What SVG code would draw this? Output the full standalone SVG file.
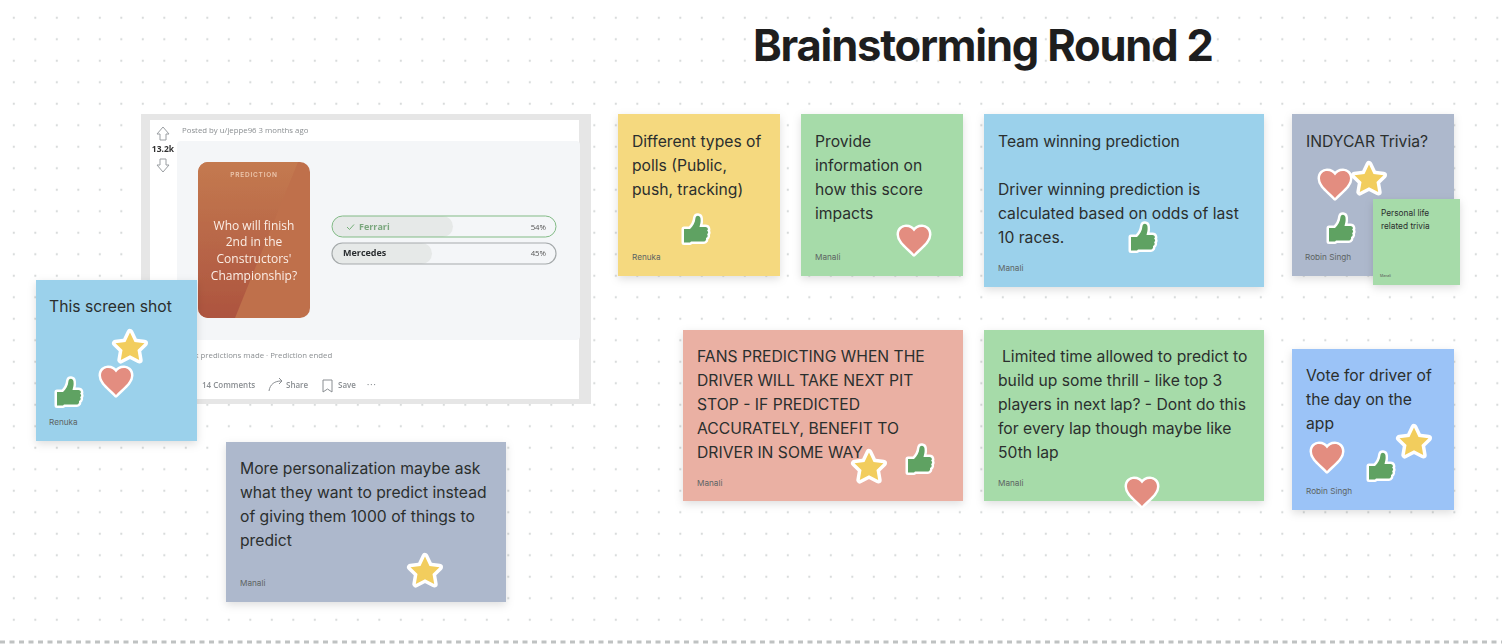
<svg xmlns="http://www.w3.org/2000/svg" width="1502" height="644" viewBox="0 0 1502 644">
<style>
text{font-family:Inter,"Noto Sans","Liberation Sans",sans-serif}
.t{font-size:15.7px;fill:#2b2f2e;transform:translateY(1px)}
.a{font-size:8.200px;fill:#5d6463}
.n{filter:url(#sh)}
.s{font-family:"Open Sans","Noto Sans",sans-serif;font-size:7.800px;fill:#8b8f92}
.b{font-family:"Open Sans","Noto Sans",sans-serif;font-weight:600;font-size:8px;fill:#8a8e92}
.q{font-family:"Open Sans","Noto Sans",sans-serif;font-weight:500;font-size:12px;fill:#fbeee6;text-anchor:middle}
.st{fill:#f2cd5d;stroke:#fff;stroke-width:7;stroke-linejoin:round;paint-order:stroke}
.he{fill:#e38d80;stroke:#fff;stroke-width:5;stroke-linejoin:round;paint-order:stroke}
.th{fill:#5fa262;stroke:#fff;stroke-width:5;stroke-linejoin:round;paint-order:stroke}
</style>
<defs>
<pattern id="dots" x="13.8" y="17.8" width="21.5" height="21.5" patternUnits="userSpaceOnUse"><circle cx="0" cy="0" r="1.100" fill="#d6d9d9"/><circle cx="21.500" cy="0" r="1.100" fill="#d6d9d9"/><circle cx="0" cy="21.500" r="1.100" fill="#d6d9d9"/><circle cx="21.500" cy="21.500" r="1.100" fill="#d6d9d9"/></pattern>
<filter id="sh" x="-10%" y="-10%" width="120%" height="125%"><feDropShadow dx="0" dy="3" stdDeviation="4" flood-color="#000" flood-opacity=".13"/></filter>
<filter id="soft" x="0" y="0" width="100%" height="100%"><feGaussianBlur stdDeviation=".4"/></filter>
<linearGradient id="card" x1="0" y1="0" x2="0" y2="1"><stop offset="0" stop-color="#c47a50"/><stop offset="1" stop-color="#ad543f"/></linearGradient>
<path id="star" class="st" d="M0-14.500 4.500-5 14.500-3.800 7.500 3 9.200 13 0 8.200-9.200 13-7.500 3-14.500-3.800-4.500-5Z"/>
<path id="heart" class="he" d="M0 14C-5 8-15 2-15-5.500-15-10.500-11.500-13-8-13-4.500-13-1.500-11 0-8.500 1.500-11 4.500-13 8-13 11.500-13 15-10.500 15-5.500 15 2 5 8 0 14Z"/>
<path id="thumb" class="th" d="M-11-1H-5C-2-4 0-7 .5-12 1-15 5-15 5.500-11.500 6-8 5-5.500 4.500-3H10.500C13-3 13.500 0 12 .5 13.500 1.500 13.500 3.500 12 4 13 5 13 7.500 11 8 11.500 9.500 10.500 11.500 9 11.500H-4L-5 12.500H-11Z"/>
</defs>
<rect width="1502" height="644" fill="#fff"/>
<rect y="0" width="1502" height="630" fill="url(#dots)"/>
<line x1="0" y1="642" x2="1502" y2="642" stroke="#bfc2c2" stroke-width="3" stroke-dasharray="5 4.500"/>
<text x="753" y="61" font-weight="700" fill="#1e1e1e" letter-spacing="-1.200" style="font-size:43.500px">Brainstorming Round 2</text>

<g id="screenshot" filter="url(#soft)">
<rect x="141" y="114" width="450" height="290" fill="#e6e6e6"/>
<rect x="150" y="120" width="429" height="279" fill="#fff"/>
<rect x="177" y="141" width="403" height="199" rx="4" fill="#f4f6f8"/>
<path d="M163 127l6 7h-3v6h-6v-6h-3ZM163 172l6-7h-3v-6h-6v6h-3Z" fill="#fff" stroke="#9a9ea2"/>
<text x="163" y="152" text-anchor="middle" font-weight="700" style="font-family:'Open Sans',sans-serif;font-size:8.500px" fill="#333">13.2k</text>
<text x="182" y="133" class="s">Posted by u/jeppe96 3 months ago</text>
<rect x="198" y="162" width="112" height="156" rx="10" fill="#bf6f4b"/>
<path d="M198 172a10 10 0 0 1 10-10h90L235 318H208a10 10 0 0 1-10-10Z" fill="url(#card)"/>
<text x="254" y="177" text-anchor="middle" font-weight="600" letter-spacing=".8" style="font-size:6.500px" fill="#ecc7ae">PREDICTION</text>
<text class="q" x="254" y="230">Who will finish</text>
<text class="q" x="254" y="246">2nd in the</text>
<text class="q" x="254" y="263">Constructors'</text>
<text class="q" x="254" y="280">Championship?</text>
<rect x="332" y="216" width="121" height="21" rx="10.500" fill="#e6e9e8"/>
<rect x="332" y="216" width="224" height="21" rx="10.500" fill="none" stroke="#82bb86"/>
<rect x="332" y="243" width="100" height="21" rx="10.500" fill="#e6e9e8"/>
<rect x="332" y="243" width="224" height="21" rx="10.500" fill="none" stroke="#a5aaab" stroke-width="1.200"/>
<path d="M347 227l2.500 2.500 4.500-5" fill="none" stroke="#74b078"/>
<text x="359" y="230" font-weight="700" style="font-family:'Open Sans',sans-serif;font-size:9px" fill="#7aa77d">Ferrari</text>
<text x="343" y="256" font-weight="700" style="font-family:'Open Sans',sans-serif;font-size:9px" fill="#2c2f31">Mercedes</text>
<text x="546" y="230" text-anchor="end" class="s" style="fill:#555">54%</text>
<text x="546" y="256" text-anchor="end" class="s" style="fill:#555">45%</text>
<text x="190" y="358" class="s">4k predictions made · Prediction ended</text>
<text x="202" y="388" class="b">14 Comments</text>
<path d="M269 391c1-7 6-10 12-10M279 378l3 3-3 3" fill="none" stroke="#8a8e92"/>
<text x="286" y="388" class="b">Share</text>
<path d="M323 380h9v12l-4.500-3-4.500 3Z" fill="none" stroke="#8a8e92"/>
<text x="338" y="388" class="b">Save</text>
<text x="367" y="388" class="b" letter-spacing="1">···</text>
</g>

<g id="note-screenshot"><rect class="n" x="36" y="280" width="161" height="161" fill="#9bd1eb"/>
<text class="t" x="49" y="311">This screen shot</text><text class="a" x="49" y="425">Renuka</text>
<use href="#star" x="130" y="347"/><use href="#heart" x="116" y="381"/><use href="#thumb" x="68" y="393"/></g>

<g id="note-personalization"><rect class="n" x="226" y="442" width="280" height="160" fill="#adb8cc"/>
<text class="t" x="240" y="473">More personalization maybe ask</text><text class="t" x="240" y="497">what they want to predict instead</text><text class="t" x="240" y="521">of giving them 1000 of things to</text><text class="t" x="240" y="545">predict</text>
<text class="a" x="240" y="586">Manali</text><use href="#star" x="425" y="571"/></g>

<g id="note-polls"><rect class="n" x="618" y="114" width="162" height="162" fill="#f5d97f"/>
<text class="t" x="632" y="146">Different types of</text><text class="t" x="632" y="170">polls (Public,</text><text class="t" x="632" y="194">push, tracking)</text>
<text class="a" x="632" y="260">Renuka</text><use href="#thumb" x="695" y="230"/></g>

<g id="note-score"><rect class="n" x="801" y="114" width="162" height="162" fill="#a6dba9"/>
<text class="t" x="815" y="146">Provide</text><text class="t" x="815" y="170">information on</text><text class="t" x="815" y="194">how this score</text><text class="t" x="815" y="218">impacts</text>
<text class="a" x="815" y="260">Manali</text><use href="#heart" x="914" y="240"/></g>

<g id="note-team"><rect class="n" x="984" y="114" width="280" height="173" fill="#9bd1eb"/>
<text class="t" x="998" y="146">Team winning prediction</text><text class="t" x="998" y="194">Driver winning prediction is</text><text class="t" x="998" y="218">calculated based on odds of last</text><text class="t" x="998" y="242">10 races.</text>
<text class="a" x="998" y="271">Manali</text><use href="#thumb" x="1142" y="238"/></g>

<g id="note-indycar"><rect class="n" x="1292" y="114" width="162" height="162" fill="#adb8cc"/>
<text class="t" x="1306" y="146">INDYCAR Trivia?</text><text class="a" x="1305" y="260">Robin Singh</text>
<use href="#heart" x="1335" y="184"/><use href="#star" x="1369" y="179"/><use href="#thumb" x="1340" y="229"/></g>

<g id="note-trivia"><rect class="n" x="1373" y="199" width="87" height="86" fill="#a6dba9"/>
<text x="1381" y="216" style="font-size:8.300px" fill="#2b2f2e">Personal life</text><text x="1381" y="229" style="font-size:8.300px" fill="#2b2f2e">related trivia</text>
<text x="1380" y="277" style="font-size:3.500px" fill="#555">Manali</text></g>

<g id="note-pit"><rect class="n" x="683" y="330" width="280" height="171" fill="#eab0a3"/>
<text class="t" x="697" y="361">FANS PREDICTING WHEN THE</text><text class="t" x="697" y="385">DRIVER WILL TAKE NEXT PIT</text><text class="t" x="697" y="409">STOP - IF PREDICTED</text><text class="t" x="697" y="433">ACCURATELY, BENEFIT TO</text><text class="t" x="697" y="457">DRIVER IN SOME WAY</text>
<text class="a" x="697" y="486">Manali</text><use href="#star" x="869" y="467"/><use href="#thumb" x="919" y="460"/></g>

<g id="note-limited"><rect class="n" x="984" y="330" width="280" height="171" fill="#a6dba9"/>
<text class="t" x="1002" y="361">Limited time allowed to predict to</text><text class="t" x="998" y="385">build up some thrill - like top 3</text><text class="t" x="998" y="409">players in next lap? - Dont do this</text><text class="t" x="998" y="433">for every lap though maybe like</text><text class="t" x="998" y="457">50th lap</text>
<text class="a" x="998" y="486">Manali</text><use href="#heart" x="1142" y="492"/></g>

<g id="note-vote"><rect class="n" x="1292" y="349" width="162" height="161" fill="#9bc3f7"/>
<text class="t" x="1306" y="380">Vote for driver of</text><text class="t" x="1306" y="404">the day on the</text><text class="t" x="1306" y="428">app</text>
<text class="a" x="1306" y="494">Robin Singh</text><use href="#heart" x="1327" y="457"/><use href="#thumb" x="1380" y="467"/><use href="#star" x="1414" y="442"/></g>
</svg>
